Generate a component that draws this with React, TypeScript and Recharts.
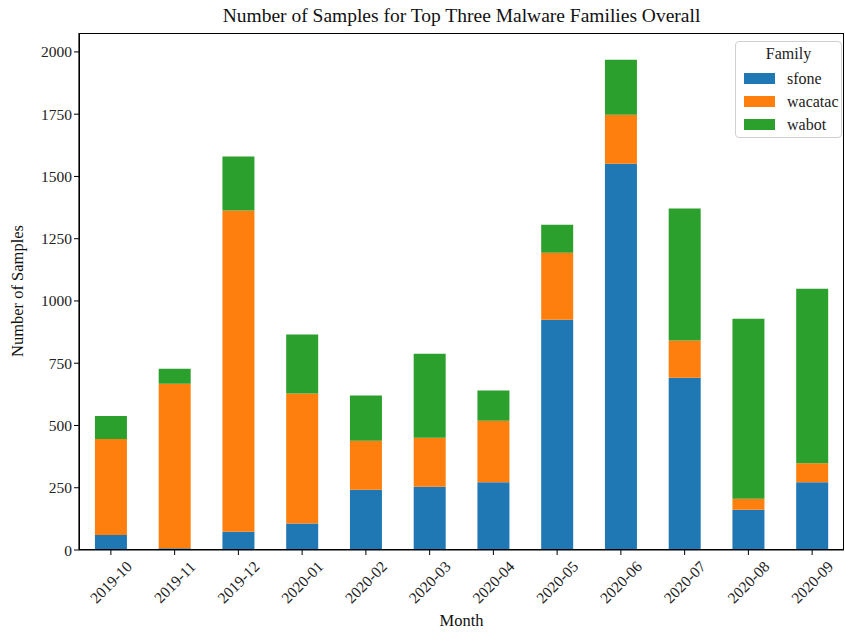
import { BarChart, Bar, XAxis, YAxis } from 'recharts';

const months = [
  '2019-10', '2019-11', '2019-12', '2020-01', '2020-02', '2020-03',
  '2020-04', '2020-05', '2020-06', '2020-07', '2020-08', '2020-09',
];
const sfone = [60, 7, 73, 106, 242, 254, 272, 925, 1551, 692, 162, 272];
const wacatac = [386, 661, 1290, 522, 197, 197, 247, 269, 197, 149, 44, 76];
const wabot = [92, 60, 217, 237, 181, 337, 121, 112, 221, 530, 723, 701];
const yTicks = [0, 250, 500, 750, 1000, 1250, 1500, 1750, 2000];

const families = [
  { key: 'sfone', color: '#1f77b4' },
  { key: 'wacatac', color: '#ff7f0e' },
  { key: 'wabot', color: '#2ca02c' },
];

const data = months.map((m, i) => ({
  month: m,
  sfone: sfone[i],
  wacatac: wacatac[i],
  wabot: wabot[i],
}));

const font = '"Liberation Serif", "DejaVu Serif", serif';

function MonthTick(props: any) {
  const { x, y, payload } = props;
  const cx = x;
  const cy = y + 25;
  return (
    <text
      x={cx}
      y={cy}
      textAnchor="middle"
      dominantBaseline="central"
      transform={`rotate(-45, ${cx}, ${cy})`}
      fontSize={15.5}
      fontFamily={font}
      fill="#222"
    >
      {payload.value}
    </text>
  );
}

function FamilyLegend() {
  return (
    <div
      style={{
        position: 'absolute',
        top: 41,
        left: 735,
        boxSizing: 'border-box',
        width: 107,
        height: 97,
        border: '1px solid #d0d0d0',
        borderRadius: 4,
        background: 'rgba(255,255,255,0.8)',
        padding: '3px 0 0 8px',
        fontFamily: font,
        fontSize: 16,
        color: '#222',
      }}
    >
      <div style={{ textAlign: 'center', paddingRight: 8, height: 22, fontFamily: font }}>Family</div>
      {families.map((f) => (
        <div key={f.key} style={{ display: 'flex', alignItems: 'center', height: 23 }}>
          <span style={{ display: 'inline-block', width: 31, height: 11, background: f.color, marginRight: 12 }} />
          <span style={{ fontFamily: font, fontSize: 16 }}>{f.key}</span>
        </div>
      ))}
    </div>
  );
}

export default function App() {
  return (
    <div style={{ width: 845, height: 635, position: 'relative', background: '#fff' }}>
      <style>{'body{margin:0}'}</style>
      <div
        style={{
          position: 'absolute',
          top: 5,
          left: 79,
          width: 765,
          textAlign: 'center',
          fontFamily: font,
          fontSize: 19.5,
          color: '#111',
        }}
      >
        Number of Samples for Top Three Malware Families Overall
      </div>
      <div
        style={{
          position: 'absolute',
          left: 18,
          top: 291,
          transform: 'translate(-50%, -50%) rotate(-90deg)',
          fontFamily: font,
          fontSize: 16.5,
          color: '#111',
          whiteSpace: 'nowrap',
        }}
      >
        Number of Samples
      </div>
      <div
        style={{
          position: 'absolute',
          left: 79,
          width: 765,
          top: 611,
          textAlign: 'center',
          fontFamily: font,
          fontSize: 16.5,
          color: '#111',
        }}
      >
        Month
      </div>
      <BarChart
        width={845}
        height={635}
        data={data}
        margin={{ top: 33, right: 1, bottom: 25, left: 0 }}
        barCategoryGap="25%"
      >
        <XAxis
          dataKey="month"
          height={60}
          interval={0}
          tick={<MonthTick />}
          tickSize={5}
          axisLine={{ stroke: '#000', strokeWidth: 1.2 }}
          tickLine={{ stroke: '#000' }}
        />
        <YAxis
          width={79}
          domain={[0, 2076]}
          ticks={yTicks}
          tickSize={5}
          tick={{ fontSize: 15.5, fontFamily: font, fill: '#222' }}
          axisLine={{ stroke: '#000', strokeWidth: 1.2 }}
          tickLine={{ stroke: '#000' }}
        />
        {families.map((f) => (
          <Bar key={f.key} dataKey={f.key} stackId="a" fill={f.color} isAnimationActive={false} />
        ))}
      </BarChart>
      <div
        style={{
          position: 'absolute',
          left: 79,
          top: 33,
          width: 765,
          height: 517,
          boxSizing: 'border-box',
          border: '1.2px solid #000',
          pointerEvents: 'none',
        }}
      />
      <FamilyLegend />
    </div>
  );
}
